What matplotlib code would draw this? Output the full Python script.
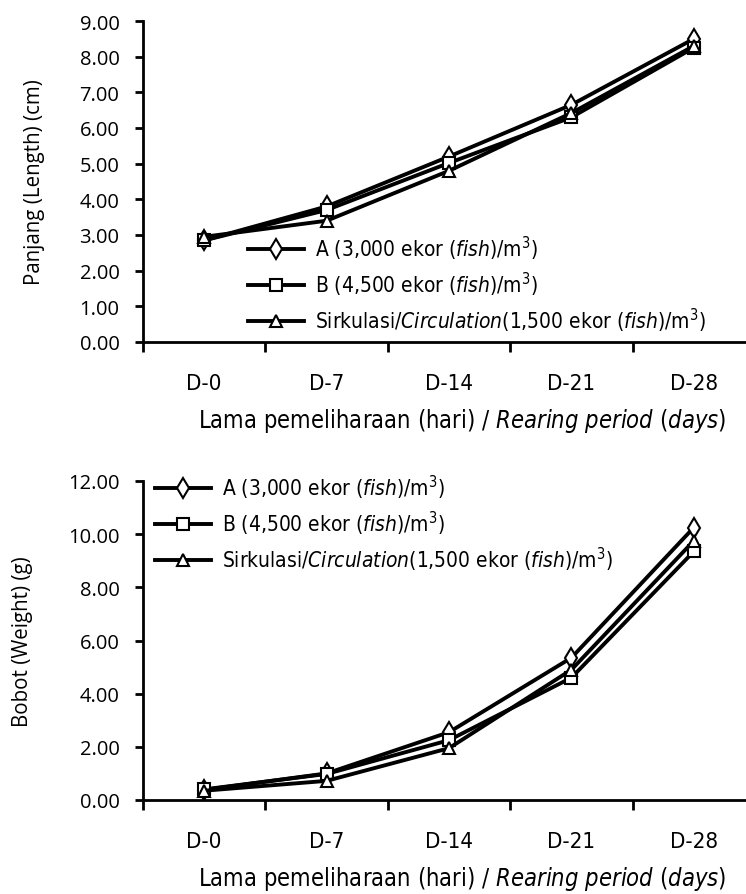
import matplotlib
matplotlib.use("Agg")
import matplotlib.pyplot as plt
from matplotlib import font_manager as fm
import numpy as np

# ---- find a condensed/narrow font if one is installed ----
def find_narrow(italic):
    prefs = ["Liberation Sans Narrow", "DejaVu Sans", "Open Sans", "Noto Sans", "Roboto"]
    cands = []
    for f in fm.fontManager.ttflist:
        fn = f.fname.lower()
        narrowish = ("narrow" in fn or "condensed" in fn or "narrow" in f.name.lower()
                     or f.stretch in ("condensed", "semi-condensed", "extra-condensed"))
        if not narrowish:
            continue
        w = f.weight if isinstance(f.weight, int) else 400
        if w > 450 or w < 350:
            continue
        is_it = f.style in ("italic", "oblique")
        if is_it != italic:
            continue
        rank = next((i for i, p in enumerate(prefs) if f.name.startswith(p)), 99)
        if "semicondensed" in fn or "semi" in str(f.stretch):
            rank += 5
        if "extracondensed" in fn or "extra" in str(f.stretch):
            rank += 10
        cands.append((rank, f.fname))
    cands.sort()
    return cands[0][1] if cands else None

reg = find_narrow(False)
ita = find_narrow(True)
if reg:
    fm.fontManager.ttflist.append(fm.FontEntry(fname=reg, name="MyNarrow", style="normal",
                                               variant="normal", weight=400,
                                               stretch="normal", size="scalable"))
    fm.fontManager.ttflist.append(fm.FontEntry(fname=ita or reg, name="MyNarrow",
                                               style="italic", variant="normal", weight=400,
                                               stretch="normal", size="scalable"))
    narrow = "MyNarrow"
    scale = 1.0
else:
    narrow = "Roboto"
    scale = 0.86
try:
    fm.fontManager._findfont_cached.cache_clear()
except Exception:
    pass

plt.rcParams['mathtext.fontset'] = 'custom'
plt.rcParams['mathtext.rm'] = narrow
plt.rcParams['mathtext.it'] = narrow + ':italic'

days = ["D-0", "D-7", "D-14", "D-21", "D-28"]
labels = [r"A (3,000 ekor ($\it{fish}$)/m$^{3}$)",
          r"B (4,500 ekor ($\it{fish}$)/m$^{3}$)",
          r"Sirkulasi/$\it{Circulation}$(1,500 ekor ($\it{fish}$)/m$^{3}$)"]
length_A = [2.85, 3.80, 5.20, 6.65, 8.50]
length_B = [2.85, 3.70, 5.02, 6.30, 8.25]
length_C = [2.95, 3.40, 4.80, 6.42, 8.30]
weight_A = [0.38, 1.00, 2.55, 5.35, 10.25]
weight_B = [0.40, 0.98, 2.25, 4.60, 9.35]
weight_C = [0.35, 0.72, 1.95, 4.90, 9.75]
length_ticks = [0, 1, 2, 3, 4, 5, 6, 7, 8, 9]
weight_ticks = [0, 2, 4, 6, 8, 10, 12]

W, H = 746, 895
fig = plt.figure(figsize=(W/100, H/100), dpi=100)

def mkax(bottom_px, top_px):
    left = 143 / W
    right = 755 / W
    return fig.add_axes([left, 1 - bottom_px / H, right - left, (bottom_px - top_px) / H])

markers = ['d', 's', '^']
msizes = [10, 8.5, 9]
tick_font = "Open Sans"
leg_size = 15 * scale
leg_px = leg_size * 100 / 72

def draw(ax, series, yt, ylab, legend_anchor):
    x = np.arange(len(days))
    for s, m, ms, lab in zip(series, markers, msizes, labels):
        ax.plot(x, s, color='black', lw=2.8, marker=m, ms=ms,
                mfc='white', mec='black', mew=1.5, label=lab)
    ax.set_xlim(-0.5, len(days) - 0.5)
    ax.set_ylim(yt[0], yt[-1])
    ax.set_yticks(yt)
    ax.set_yticklabels([f"{v:.2f}" for v in yt], fontsize=14.5, family=tick_font)
    ax.set_xticks(np.arange(len(days) + 1) - 0.5)
    ax.set_xticklabels([])
    ax.set_xticks(x, minor=True)
    ax.set_xticklabels(days, minor=True, fontsize=16 * scale, family=narrow)
    ax.tick_params(axis='x', which='minor', length=0, pad=22)
    ax.tick_params(axis='x', which='major', length=7, width=2, direction='out')
    ax.tick_params(axis='y', length=6, width=2, direction='out', pad=11)
    for sp in ['top', 'right']:
        ax.spines[sp].set_visible(False)
    for sp in ['left', 'bottom']:
        ax.spines[sp].set_linewidth(2)
    ax.set_ylabel(ylab, fontsize=14.8, family=tick_font, labelpad=25)
    ax.set_xlabel("Lama pemeliharaan (hari) / $\\it{Rearing\\ period\\ (days)}$",
                  fontsize=17 * scale, family=narrow, labelpad=10)
    leg = ax.legend(loc='center left', bbox_to_anchor=legend_anchor, frameon=False,
                    prop={'family': narrow, 'size': leg_size},
                    handlelength=56 / leg_px, handletextpad=11 / leg_px,
                    labelspacing=0.36, borderaxespad=0, borderpad=0)
    return leg

ax1 = mkax(343, 22)
draw(ax1, [length_A, length_B, length_C], length_ticks, "Panjang (Length) (cm)",
     ((248 - 143) / 612, (343 - 285) / 321))
ax1.xaxis.label.set_position(((462 - 143) / 612, 0))

ax2 = mkax(801, 482)
draw(ax2, [weight_A, weight_B, weight_C], weight_ticks, "Bobot (Weight) (g)",
     ((155 - 143) / 612, (801 - 524) / 319))
ax2.xaxis.label.set_position(((462 - 143) / 612, 0))

fig.savefig("out.png", dpi=100)
